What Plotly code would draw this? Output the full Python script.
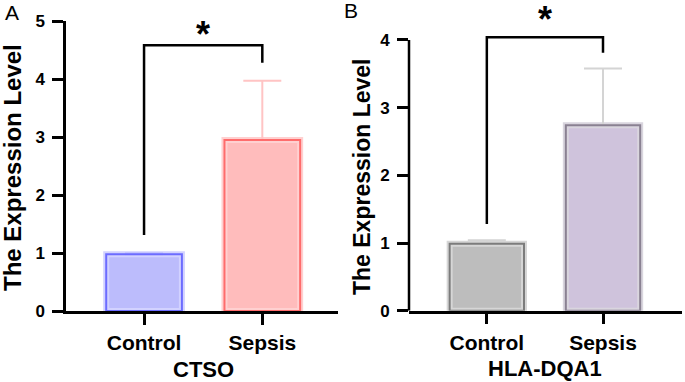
import plotly.graph_objects as go

categories = ["Control", "Sepsis"]

# Panel A: CTSO
ctso_mean = [0.98, 2.95]
ctso_sd = [0.02, 1.02]
# Panel B: HLA-DQA1
hla_mean = [0.99, 2.74]
hla_sd = [0.05, 0.84]

bracket_a = [1.31, 4.58, 4.58, 4.28]
bracket_b = [1.28, 4.04, 4.04, 3.81]
star_a = 4.76
star_b = 4.30

yticks_a = [0, 1, 2, 3, 4, 5]
yticks_b = [0, 1, 2, 3, 4]

FONT = "Liberation Sans, Arial, sans-serif"

fill_a = ["#bcbcfc", "#ffbcbc"]
line_a = ["#6c6cff", "#ff6c6c"]
halo_a = ["#d2d2ff", "#ffd0d0"]
err_a = ["#c4c4ff", "#ffc4c4"]

fill_b = ["#bdbdbd", "#cfc3dc"]
line_b = ["#7c7c7c", "#8a8192"]
halo_b = ["#d6d6d6", "#d9d5de"]
err_b = ["#d4d4d4", "#d4d4d4"]

fig = go.Figure()
star_annotations = []


def add_panel(means, sds, fills, lines, halos, errs, xa, ya, bracket, star):
    for i, c in enumerate(categories):
        fig.add_trace(go.Bar(
            x=[i], y=[means[i]], width=0.64,
            marker=dict(color=fills[i], line=dict(color=halos[i], width=6)),
            error_y=dict(type="data", array=[sds[i]], arrayminus=[0], symmetric=False,
                         color=errs[i], thickness=2, width=19),
            xaxis=xa, yaxis=ya, showlegend=False, hoverinfo="skip"))
        fig.add_trace(go.Bar(
            x=[i], y=[means[i]], width=0.64,
            marker=dict(color="rgba(0,0,0,0)", line=dict(color=lines[i], width=2)),
            xaxis=xa, yaxis=ya, showlegend=False, hoverinfo="skip"))
    fig.add_trace(go.Scatter(
        x=[0, 0, 1, 1], y=bracket,
        mode="lines", line=dict(color="black", width=2.5),
        xaxis=xa, yaxis=ya, showlegend=False, hoverinfo="skip"))
    star_annotations.append(dict(
        text="*", x=0.5, y=star, xref=xa, yref=ya, showarrow=False,
        xanchor="center", yanchor="middle",
        font=dict(family=FONT, size=36, color="black", weight="bold")))


add_panel(ctso_mean, ctso_sd, fill_a, line_a, halo_a, err_a, "x", "y", bracket_a, star_a)
add_panel(hla_mean, hla_sd, fill_b, line_b, halo_b, err_b, "x2", "y2", bracket_b, star_b)

tickfont = dict(family=FONT, size=17, color="black", weight="bold")
catfont = dict(family=FONT, size=21, color="black", weight="bold")

xcommon = dict(tickmode="array", tickvals=[0, 1], ticktext=categories,
               showline=True, linecolor="black", linewidth=2.5, ticks="outside",
               ticklen=11, tickwidth=2.5, tickcolor="black", tickfont=catfont,
               showgrid=False, zeroline=False, fixedrange=True, automargin=False)
ycommon = dict(linecolor="black", linewidth=2.5, ticks="outside",
               ticklen=11, tickwidth=2.5, tickcolor="black", tickfont=tickfont,
               showgrid=False, zeroline=False, fixedrange=True, ticklabelstandoff=4,
               automargin=False)

# panel B: y range extends above the top tick so the bracket and star are not clipped;
# the axis line is drawn only up to the top tick
b_top = 4.45
b_y0, b_y4 = 310.7, 40.0
b_pix_per = (b_y0 - b_y4) / 4
b_dom_top = (382 - (b_y0 - b_top * b_pix_per)) / 382

fig.update_layout(
    width=685, height=382,
    margin=dict(l=0, r=0, t=0, b=0, autoexpand=False),
    paper_bgcolor="white", plot_bgcolor="white",
    barmode="overlay",
    xaxis=dict(domain=[66/685, 338/685], anchor="y", range=[-0.66, 1.64], **xcommon),
    yaxis=dict(domain=[71/382, 361/382], anchor="x", range=[0, 5], tickvals=yticks_a,
               showline=True, **ycommon),
    xaxis2=dict(domain=[409/685, 682/685], anchor="y2", range=[-0.67, 1.68], **xcommon),
    yaxis2=dict(domain=[71.3/382, b_dom_top], anchor="x2", range=[0, b_top], tickvals=yticks_b,
                showline=False, **ycommon),
    shapes=[dict(type="line", xref="x2 domain", yref="y2", x0=0, x1=0, y0=0, y1=4,
                 line=dict(color="black", width=2.5), layer="above")],
    annotations=star_annotations + [
        dict(text="A", x=12/685, y=1-12/382, xref="paper", yref="paper", showarrow=False,
             font=dict(family=FONT, size=21, color="black"), xanchor="center", yanchor="middle"),
        dict(text="B", x=351/685, y=1-11/382, xref="paper", yref="paper", showarrow=False,
             font=dict(family=FONT, size=21, color="black"), xanchor="center", yanchor="middle"),
        dict(text="CTSO", x=203/685, y=1-369/382, xref="paper", yref="paper", showarrow=False,
             font=dict(family=FONT, size=22, color="black", weight="bold"), xanchor="center", yanchor="middle"),
        dict(text="HLA-DQA1", x=545/685, y=1-368/382, xref="paper", yref="paper", showarrow=False,
             font=dict(family=FONT, size=22, color="black", weight="bold"), xanchor="center", yanchor="middle"),
        dict(text="The Expression Level", x=12/685, y=1-168/382, xref="paper", yref="paper",
             showarrow=False, textangle=-90,
             font=dict(family=FONT, size=24, color="black", weight="bold"), xanchor="center", yanchor="middle"),
        dict(text="The Expression Level", x=362/685, y=1-177/382, xref="paper", yref="paper",
             showarrow=False, textangle=-90,
             font=dict(family=FONT, size=23, color="black", weight="bold"), xanchor="center", yanchor="middle"),
    ],
)

fig.write_html("out.html", post_script="document.body.style.margin='0';",
               config={"displayModeBar": False})
